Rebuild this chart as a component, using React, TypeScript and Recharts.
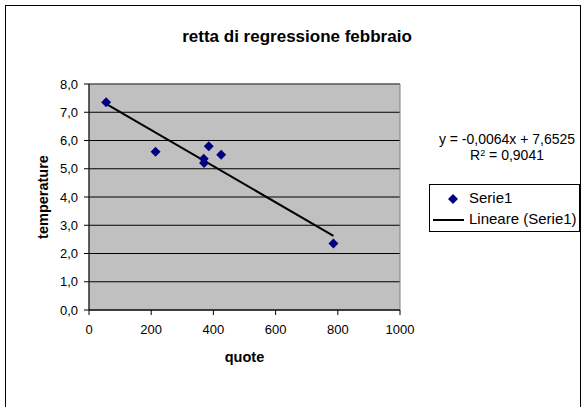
import React from "react";
import {
  ScatterChart,
  Scatter,
  XAxis,
  YAxis,
  CartesianGrid,
  ReferenceArea,
} from "recharts";

// dati: quota (m) e temperatura di febbraio
const quote = [55, 214, 369, 370, 385, 425, 786];
const temperature = [7.35, 5.6, 5.35, 5.2, 5.8, 5.5, 2.35];

const xTicks = [0, 200, 400, 600, 800, 1000];
const yTicks = [0, 1, 2, 3, 4, 5, 6, 7, 8];

// coefficienti della retta come riportati nell'etichetta
const slope = -0.0064;
const intercept = 7.6525;
const r2 = "0,9041";

const points = quote.map((q, i) => ({ x: q, y: temperature[i] }));
const xMin = Math.min(...quote);
const xMax = Math.max(...quote);
const trend = [
  { x: xMin, y: slope * xMin + intercept },
  { x: xMax, y: slope * xMax + intercept },
];

const font = "'Liberation Sans', Arial, sans-serif";
const fmt = (v: number) => v.toFixed(1).replace(".", ",");

const Diamond = (props: any) => {
  const { cx, cy } = props;
  if (cx == null || cy == null) return <g />;
  const r = 5;
  return (
    <polygon
      points={`${cx},${cy - r} ${cx + r},${cy} ${cx},${cy + r} ${cx - r},${cy}`}
      fill="#000080"
    />
  );
};

export default function App() {
  return (
    <div style={{ position: "absolute", left: 0, top: 0, width: 585, height: 407, overflow: "hidden", background: "#fff", fontFamily: font }}>
      <div style={{ position: "absolute", left: 5, top: 5, width: 574, height: 420, border: "1px solid #000" }} />
      <div style={{ position: "absolute", left: 0, width: 594, textAlign: "center", top: 27, fontSize: 17, fontWeight: "bold", lineHeight: "20px" }}>
        retta di regressione febbraio
      </div>
      <ScatterChart
        width={585}
        height={407}
        margin={{ top: 84, right: 185, bottom: 67, left: 29 }}
        style={{ position: "absolute", left: 0, top: 0 }}
      >
        <CartesianGrid vertical={false} stroke="#000" fill="#c0c0c0" fillOpacity={1} horizontalValues={yTicks} />
        <ReferenceArea x1={0} x2={1000} y1={0} y2={8} fill="none" stroke="#808080" strokeOpacity={1} />
        <XAxis
          type="number"
          dataKey="x"
          domain={[0, 1000]}
          ticks={xTicks}
          interval={0}
          height={30}
          tickSize={5}
          tickMargin={10}
          axisLine={{ stroke: "#000" }}
          tickLine={{ stroke: "#000" }}
          tick={{ fill: "#000", fontSize: 13, fontFamily: font }}
          label={{ value: "quote", position: "insideBottom", offset: -22, fill: "#000", fontSize: 14.5, fontWeight: "bold", fontFamily: font }}
        />
        <YAxis
          type="number"
          dataKey="y"
          domain={[0, 8]}
          ticks={yTicks}
          interval={0}
          width={60}
          tickSize={5}
          tickMargin={6}
          tickFormatter={fmt}
          axisLine={{ stroke: "#000" }}
          tickLine={{ stroke: "#000" }}
          tick={{ fill: "#000", fontSize: 13, fontFamily: font }}
          label={{ value: "temperature", angle: -90, position: "insideLeft", offset: 14, fill: "#000", fontSize: 14.5, fontWeight: "bold", fontFamily: font, style: { textAnchor: "middle" } }}
        />
        <Scatter
          name="Lineare (Serie1)"
          data={trend}
          line={{ stroke: "#000", strokeWidth: 2 }}
          shape={() => <g />}
          isAnimationActive={false}
        />
        <Scatter name="Serie1" data={points} shape={Diamond} isAnimationActive={false} />
      </ScatterChart>
      <div style={{ position: "absolute", left: 422, width: 170, top: 131, textAlign: "center", fontSize: 14, lineHeight: "16px" }}>
        <div>y = -0,0064x + 7,6525</div>
        <div>
          R<sup style={{ fontSize: 9, verticalAlign: "top", position: "relative", top: -2 }}>2</sup> = {r2}
        </div>
      </div>
      <div style={{ position: "absolute", left: 429, top: 184, width: 149, height: 46, border: "1px solid #000", fontSize: 15, lineHeight: "18px" }}>
        <svg width={40} height={46} style={{ position: "absolute", left: 0, top: 0 }}>
          <polygon points="23,9 28,14 23,19 18,14" fill="#000080" />
          <line x1={3} y1={35} x2={34} y2={35} stroke="#000" strokeWidth={2} />
        </svg>
        <div style={{ position: "absolute", left: 39, top: 4 }}>Serie1</div>
        <div style={{ position: "absolute", left: 39, top: 25 }}>Lineare (Serie1)</div>
      </div>
    </div>
  );
}
